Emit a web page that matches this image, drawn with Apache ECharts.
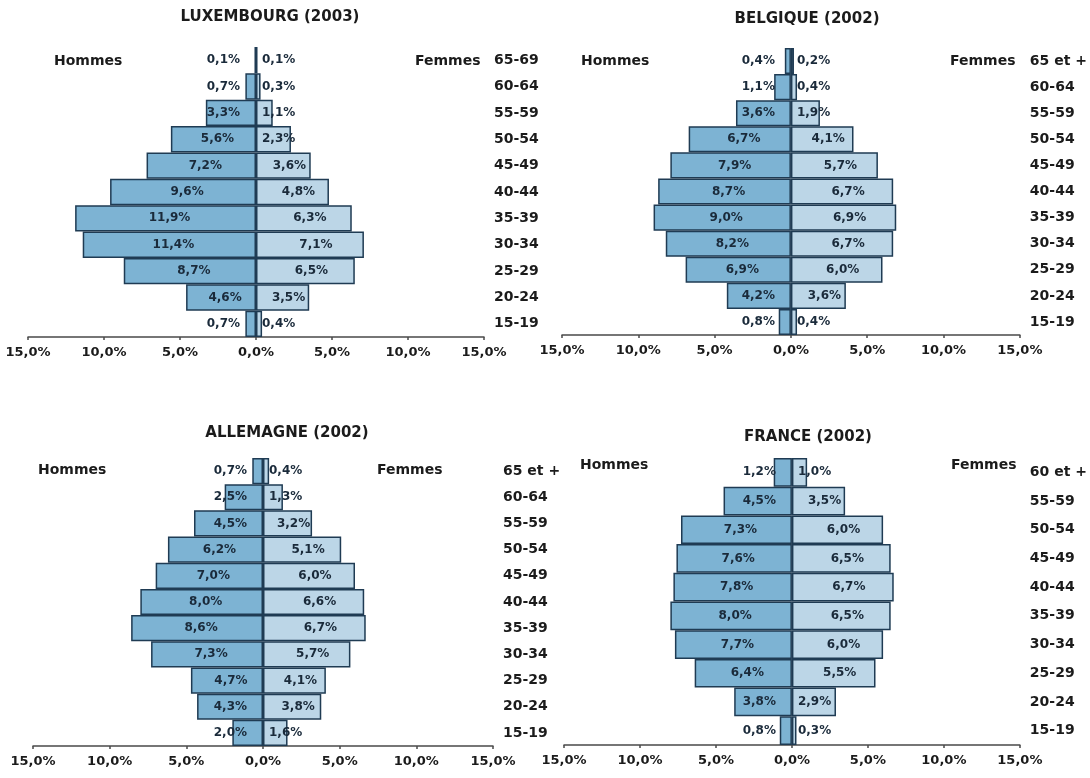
<!DOCTYPE html>
<html><head><meta charset="utf-8">
<script src="https://cdn.jsdelivr.net/npm/echarts@6/dist/echarts.min.js"></script>
<style>html,body{margin:0;padding:0;background:#fff}#c{width:1090px;height:778px}</style>
</head><body><div id="c"></div>
<script>
// ---- Data ----
const luxCats = ['65-69','60-64','55-59','50-54','45-49','40-44','35-39','30-34','25-29','20-24','15-19'];
const luxMen = [0.1,0.7,3.3,5.6,7.2,9.6,11.9,11.4,8.7,4.6,0.7];
const luxWomen = [0.1,0.3,1.1,2.3,3.6,4.8,6.3,7.1,6.5,3.5,0.4];

const belCats = ['65 et +','60-64','55-59','50-54','45-49','40-44','35-39','30-34','25-29','20-24','15-19'];
const belMen = [0.4,1.1,3.6,6.7,7.9,8.7,9.0,8.2,6.9,4.2,0.8];
const belWomen = [0.2,0.4,1.9,4.1,5.7,6.7,6.9,6.7,6.0,3.6,0.4];

const deuCats = ['65 et +','60-64','55-59','50-54','45-49','40-44','35-39','30-34','25-29','20-24','15-19'];
const deuMen = [0.7,2.5,4.5,6.2,7.0,8.0,8.6,7.3,4.7,4.3,2.0];
const deuWomen = [0.4,1.3,3.2,5.1,6.0,6.6,6.7,5.7,4.1,3.8,1.6];

const fraCats = ['60 et +','55-59','50-54','45-49','40-44','35-39','30-34','25-29','20-24','15-19'];
const fraMen = [1.2,4.5,7.3,7.6,7.8,8.0,7.7,6.4,3.8,0.8];
const fraWomen = [1.0,3.5,6.0,6.5,6.7,6.5,6.0,5.5,2.9,0.3];

const titles = ['LUXEMBOURG (2003)','BELGIQUE (2002)','ALLEMAGNE (2002)','FRANCE (2002)'];
const xTicks = [-15,-10,-5,0,5,10,15];

// ---- Layout / style ----
const FONT = "'DejaVu Sans', sans-serif";
const TXT = '#1b1b1b';
const MEN = '#7db3d3';
const WOMEN = '#bcd6e7';
const EDGE = '#1f3b53';

const panels = [
  {title: titles[0], cats: luxCats, men: luxMen, women: luxWomen,
   grid: {left: 28, top: 47, width: 456, height: 290},
   t: [270, 17], h: [54, 61], f: [415, 61]},
  {title: titles[1], cats: belCats, men: belMen, women: belWomen,
   grid: {left: 562, top: 48, width: 460, height: 287},
   t: [807, 19], h: [581, 61], f: [950, 61]},
  {title: titles[2], cats: deuCats, men: deuMen, women: deuWomen,
   grid: {left: 33, top: 458, width: 460, height: 288},
   t: [287, 433], h: [38, 470], f: [377, 470]},
  {title: titles[3], cats: fraCats, men: fraMen, women: fraWomen,
   grid: {left: 564, top: 458, width: 458, height: 287},
   t: [808, 437], h: [580, 465], f: [951, 465]}
];

const fmt = v => Math.abs(v).toFixed(1).replace('.', ',') + '%';

const grids = [], xAxes = [], yAxes = [], series = [], graphics = [];
panels.forEach((p, i) => {
  grids.push(p.grid);
  xAxes.push({
    type: 'value', gridIndex: i, min: -15, max: 15, interval: 5,
    splitLine: {show: false},
    axisLine: {show: true, onZero: false, lineStyle: {color: '#4a4a4a', width: 1.5}},
    axisTick: {show: true, length: 3, lineStyle: {color: '#4a4a4a', width: 1.5}},
    axisLabel: {margin: 9, color: TXT, fontFamily: FONT, fontWeight: 'bold', fontSize: 13,
      formatter: v => fmt(v)}
  });
  yAxes.push({
    type: 'category', gridIndex: i, data: p.cats, inverse: true, position: 'right',
    axisLine: {show: false}, axisTick: {show: false}, splitLine: {show: false},
    axisLabel: {margin: 10, align: 'left', color: TXT, fontFamily: FONT, fontWeight: 'bold', fontSize: 14}
  });
  const lbl = {show: true, color: '#1a2a3a', fontFamily: FONT, fontWeight: 'bold', fontSize: 12,
    formatter: q => fmt(q.value)};
  series.push({
    type: 'bar', xAxisIndex: i, yAxisIndex: i, barGap: '-100%', barCategoryGap: '0%',
    itemStyle: {color: MEN, borderColor: EDGE, borderWidth: 1.5},
    data: p.men.map(v => ({value: -v,
      label: Object.assign({}, lbl, v < 4.6 ? {position: 'insideRight', distance: 16} : {position: 'inside', offset: [4, 0]})})),
    z: 2
  });
  series.push({
    type: 'bar', xAxisIndex: i, yAxisIndex: i, barGap: '-100%', barCategoryGap: '0%',
    itemStyle: {color: WOMEN, borderColor: EDGE, borderWidth: 1.5},
    data: p.women.map(v => ({value: v,
      label: Object.assign({}, lbl, v < 3 ? {position: 'insideLeft', distance: 6} : {position: 'inside', offset: [6, 0]})})),
    z: 2
  });
  graphics.push({type: 'text', x: p.t[0], y: p.t[1],
    style: {text: p.title, align: 'center', verticalAlign: 'middle', font: "bold 15px 'DejaVu Sans', sans-serif", fill: TXT}});
  graphics.push({type: 'text', x: p.h[0], y: p.h[1],
    style: {text: 'Hommes', align: 'left', verticalAlign: 'middle', font: "bold 14px 'DejaVu Sans', sans-serif", fill: TXT}});
  graphics.push({type: 'text', x: p.f[0], y: p.f[1],
    style: {text: 'Femmes', align: 'left', verticalAlign: 'middle', font: "bold 14px 'DejaVu Sans', sans-serif", fill: TXT}});
});

const chart = echarts.init(document.getElementById('c'), null, {renderer: 'canvas'});
chart.setOption({
  animation: false,
  backgroundColor: '#ffffff',
  grid: grids, xAxis: xAxes, yAxis: yAxes, series: series, graphic: graphics
});
</script></body></html>
